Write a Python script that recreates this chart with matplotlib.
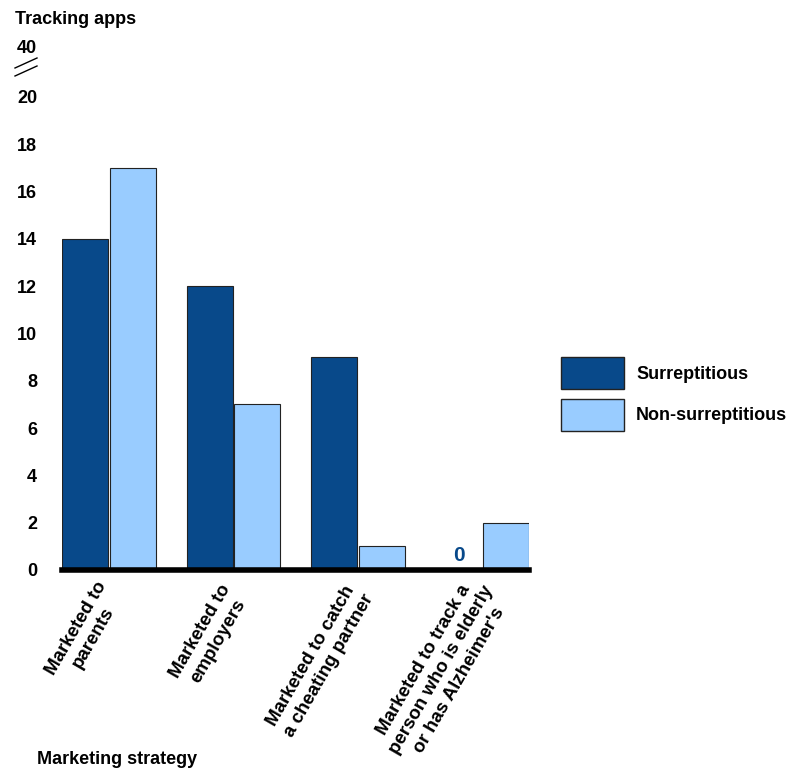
import matplotlib.pyplot as plt
import matplotlib.transforms as mtransforms
import numpy as np
from matplotlib.lines import Line2D
from matplotlib.patches import Patch

plt.rcParams['font.family'] = ['Liberation Sans', 'DejaVu Sans']
plt.rcParams['font.weight'] = 'bold'

# data
categories = ["Marketed to\nparents", "Marketed to\nemployers",
              "Marketed to catch\na cheating partner",
              "Marketed to track a\nperson who is elderly\nor has Alzheimer's"]
surreptitious = [14, 12, 9, 0]
non_surreptitious = [17, 7, 1, 2]
ytick_vals = [0, 2, 4, 6, 8, 10, 12, 14, 16, 18, 20, 22.15]
ytick_labels = ["0", "2", "4", "6", "8", "10", "12", "14", "16", "18", "20", "40"]

dark = "#08498A"
light = "#99CCFF"

fig = plt.figure(figsize=(7.94, 7.70), dpi=100)
ax = fig.add_axes([62/794, 200/770, 467/794, 544/770])

x = np.arange(len(categories))
w = 0.37
ax.bar(x - w/2 - 0.005, surreptitious, w, color=dark, edgecolor="#222222", linewidth=0.8)
ax.bar(x + w/2 + 0.005, non_surreptitious, w, color=light, edgecolor="#222222", linewidth=0.8)

# zero label
for xi, v in zip(x, surreptitious):
    if v == 0:
        ax.text(xi - w/2, 0.6, "0", color=dark, fontsize=15, fontweight='bold',
                ha='center', va='center')

ax.set_xlim(-0.378, 3.375)
ax.set_ylim(0, 23)
ax.set_yticks(ytick_vals)
ax.set_yticklabels(ytick_labels, fontsize=13, fontweight='bold')
ax.tick_params(axis='y', length=0, pad=18)
ax.set_xticks(x)
ax.set_xticklabels(categories, rotation=60, ha='center', va='center',
                   rotation_mode='anchor', fontsize=13.5, fontweight='bold',
                   multialignment='center', linespacing=1.25)
ax.tick_params(axis='x', length=0, pad=0)
# move each rotated label block (pixels right, pixels down)
shifts = [(-24, 63), (-24, 66), (-38, 91), (-41, 100)]
for lab, (dx, dy) in zip(ax.get_xticklabels(), shifts):
    lab.set_transform(lab.get_transform() +
                      mtransforms.ScaledTranslation(dx / 100, -dy / 100, fig.dpi_scale_trans))
for s in ['top', 'right', 'left']:
    ax.spines[s].set_visible(False)
ax.spines['bottom'].set_linewidth(4)
ax.spines['bottom'].set_color('black')

# axis break marks
fig.add_artist(Line2D([15/794, 37/794], [1 - 68/770, 1 - 58/770], color='black', lw=1))
fig.add_artist(Line2D([15/794, 37/794], [1 - 76/770, 1 - 66/770], color='black', lw=1))

fig.text(15/794, 1 - 20/770, "Tracking apps", fontsize=13, fontweight='bold', va='center')
fig.text(37/794, 1 - 760/770, "Marketing strategy", fontsize=13, fontweight='bold', va='center')

handles = [Patch(facecolor=dark, edgecolor="#222222"), Patch(facecolor=light, edgecolor="#222222")]
fig.legend(handles, ["Surreptitious", "Non-surreptitious"], loc='center left',
           bbox_to_anchor=(554/794, 1 - 394/770), frameon=False,
           prop={'size': 13, 'weight': 'bold'}, handlelength=3.5, handleheight=2.36,
           labelspacing=0.5, handletextpad=0.65, borderaxespad=0)

fig.savefig("out.png", dpi=100)
